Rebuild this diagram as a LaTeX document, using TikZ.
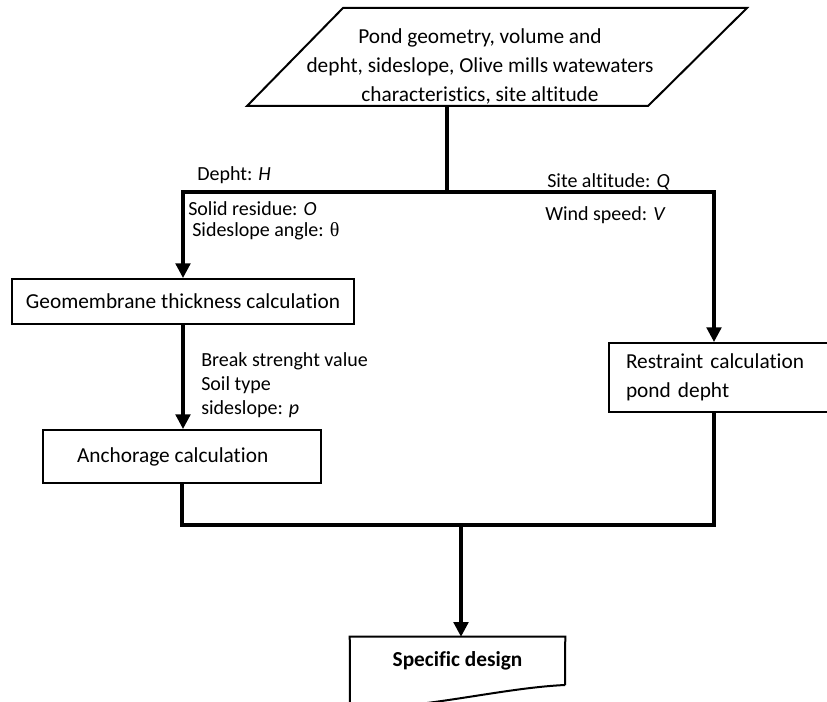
\documentclass[tikz,border=0pt]{standalone}
\usepackage{fontspec}
\setmainfont{Carlito}[Ligatures=NoCommon]
\newfontfamily\greekfont{Liberation Serif}
\usetikzlibrary{arrows.meta}

\begin{document}
\begin{tikzpicture}[x=0.75pt,y=-0.75pt,
        every node/.style={font=\fontsize{16}{19}\selectfont},
        box/.style={draw,line width=1.5pt,inner sep=0pt},
        flow/.style={line width=2.4pt},
        arrow/.style={flow,-{Triangle[width=11pt,length=11pt]}},
        lbl/.style={anchor=base west,inner sep=0pt,font=\fontsize{15}{18}\selectfont}
      ]
      \useasboundingbox (0,0) rectangle (827,702);

      % input data
      \draw[line width=1.5pt] (247,106) -- (343,8) -- (747,8) -- (648,106) -- cycle;
      \node[align=center,font=\fontsize{16}{21.75}\selectfont] (input) at (480,66)
        {Pond geometry, volume and\\depht, sideslope, Olive mills watewaters\\characteristics, site altitude};
      \coordinate (inbot) at (447,106);
      \coordinate (split) at (447,192);

      % calculation boxes
      \node[box,minimum width=256.5pt,minimum height=33.75pt] (geo) at (183,301.5) {Geomembrane thickness calculation};
      \node[box,minimum width=208.5pt,minimum height=39.75pt] (anch) at (182,456.5) {Anchorage calculation\hspace*{14pt}};
      \node[box,anchor=west,minimum width=165pt,minimum height=51.75pt,inner xsep=12.75pt,
        text width=139.5pt,align=left,font=\fontsize{16}{21.75}\selectfont] (rest) at (608,377.5)
        {Restraint calculation\\pond depht};
      \node[minimum width=161.25pt,minimum height=36pt,font=\fontsize{16}{19}\selectfont\bfseries] (design) at (457.5,661) {Specific design};
      \draw[line width=1.5pt] (565,685) -- (design.north east) -- (design.north west) -- (350,708)
        .. controls (420,710) and (500,688) .. (565,685);

      % edge labels
      \node[lbl] (depth) at (197,181) {Depht: \textit{H}};
      \node[lbl] (solid) at (188,216) {Solid residue: \textit{O}};
      \node[lbl] (angle) at (192,236) {Sideslope angle: {\greekfont θ}};
      \node[lbl] (alt) at (547,188) {Site altitude: \textit{Q}};
      \node[lbl] (wind) at (545,220) {Wind speed: \textit{V}};
      \node[lbl] (brk) at (201,366) {Break strenght value};
      \node[lbl] (soil) at (201,390) {Soil type};
      \node[lbl] (side) at (201,414) {sideslope: \textit{p}};

      % connectors
      \draw[flow] (inbot) -- (split);
      \draw[arrow] (split) -| (geo.north);
      \draw[arrow] (split) -| ([xshift=-3.75pt]rest.north);
      \draw[arrow] (geo.south) -- (geo.south |- anch.north);
      \coordinate (join) at (461,525);
      \draw[flow] (anch.south) |- (join);
      \draw[flow] ([xshift=-3.75pt]rest.south) |- (join);
      \draw[arrow] (join) -- (join |- design.north);
    \end{tikzpicture}
\end{document}
